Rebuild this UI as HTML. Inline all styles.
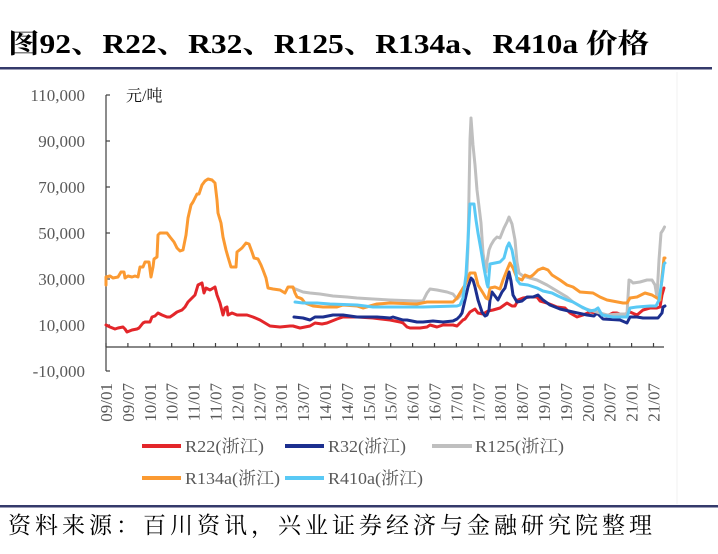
<!DOCTYPE html>
<html><head><meta charset="utf-8"><style>
html,body{margin:0;padding:0;background:#fff;}
svg{display:block;}
</style></head><body>
<svg width="718" height="554" viewBox="0 0 718 554" xmlns="http://www.w3.org/2000/svg">
<rect width="718" height="554" fill="#fff"/>
<!-- title -->
<text x="8" y="53" font-family="'Liberation Serif','Noto Serif CJK SC',serif" font-size="27" font-weight="bold" fill="#000" textLength="641" lengthAdjust="spacingAndGlyphs">图92、R22、R32、R125、R134a、R410a 价格</text>
<rect x="0" y="67" width="712" height="2.5" fill="#343a6b"/>
<line x1="677" y1="72" x2="677" y2="504" stroke="#f2f2f2" stroke-width="1"/>

<!-- y axis -->
<g font-family="'Liberation Serif',serif" font-size="17" fill="#595959" text-anchor="end">
<text x="85" y="101">110,000</text>
<text x="85" y="147">90,000</text>
<text x="85" y="193">70,000</text>
<text x="85" y="239">50,000</text>
<text x="85" y="285">30,000</text>
<text x="85" y="331">10,000</text>
<text x="85" y="377">-10,000</text>
</g>
<g stroke="#404040" stroke-width="1.2">
<line x1="106" y1="95" x2="106" y2="371"/>
<line x1="106" y1="95" x2="110" y2="95"/>
<line x1="106" y1="141" x2="110" y2="141"/>
<line x1="106" y1="187" x2="110" y2="187"/>
<line x1="106" y1="233" x2="110" y2="233"/>
<line x1="106" y1="279" x2="110" y2="279"/>
<line x1="106" y1="325" x2="110" y2="325"/>
<line x1="106" y1="371" x2="110" y2="371"/>
<line x1="106" y1="347" x2="664" y2="347"/>
</g>
<text x="126" y="101" font-family="'Liberation Serif','Noto Serif CJK SC',serif" font-size="16" fill="#111">元/吨</text>

<!-- x ticks & labels -->
<g stroke="#404040" stroke-width="1.2">
<path d="M106 343V347M127.9 343V347M149.8 343V347M171.7 343V347M193.6 343V347M215.5 343V347M237.4 343V347M259.3 343V347M281.2 343V347M303.1 343V347M325 343V347M346.9 343V347M368.8 343V347M390.7 343V347M412.6 343V347M434.5 343V347M456.4 343V347M478.3 343V347M500.2 343V347M522.1 343V347M544 343V347M565.9 343V347M587.8 343V347M609.7 343V347M631.6 343V347M653.5 343V347"/>
</g>
<g font-family="'Liberation Serif',serif" font-size="17" fill="#595959" text-anchor="end">
<text transform="translate(106,383) rotate(-90)" dy="0.35em">09/01</text>
<text transform="translate(127.9,383) rotate(-90)" dy="0.35em">09/07</text>
<text transform="translate(149.8,383) rotate(-90)" dy="0.35em">10/01</text>
<text transform="translate(171.7,383) rotate(-90)" dy="0.35em">10/07</text>
<text transform="translate(193.6,383) rotate(-90)" dy="0.35em">11/01</text>
<text transform="translate(215.5,383) rotate(-90)" dy="0.35em">11/07</text>
<text transform="translate(237.4,383) rotate(-90)" dy="0.35em">12/01</text>
<text transform="translate(259.3,383) rotate(-90)" dy="0.35em">12/07</text>
<text transform="translate(281.2,383) rotate(-90)" dy="0.35em">13/01</text>
<text transform="translate(303.1,383) rotate(-90)" dy="0.35em">13/07</text>
<text transform="translate(325,383) rotate(-90)" dy="0.35em">14/01</text>
<text transform="translate(346.9,383) rotate(-90)" dy="0.35em">14/07</text>
<text transform="translate(368.8,383) rotate(-90)" dy="0.35em">15/01</text>
<text transform="translate(390.7,383) rotate(-90)" dy="0.35em">15/07</text>
<text transform="translate(412.6,383) rotate(-90)" dy="0.35em">16/01</text>
<text transform="translate(434.5,383) rotate(-90)" dy="0.35em">16/07</text>
<text transform="translate(456.4,383) rotate(-90)" dy="0.35em">17/01</text>
<text transform="translate(478.3,383) rotate(-90)" dy="0.35em">17/07</text>
<text transform="translate(500.2,383) rotate(-90)" dy="0.35em">18/01</text>
<text transform="translate(522.1,383) rotate(-90)" dy="0.35em">18/07</text>
<text transform="translate(544,383) rotate(-90)" dy="0.35em">19/01</text>
<text transform="translate(565.9,383) rotate(-90)" dy="0.35em">19/07</text>
<text transform="translate(587.8,383) rotate(-90)" dy="0.35em">20/01</text>
<text transform="translate(609.7,383) rotate(-90)" dy="0.35em">20/07</text>
<text transform="translate(631.6,383) rotate(-90)" dy="0.35em">21/01</text>
<text transform="translate(653.5,383) rotate(-90)" dy="0.35em">21/07</text>
</g>

<!-- series -->
<g fill="none" stroke-width="3" stroke-linejoin="round" stroke-linecap="round">
<polyline stroke="#e3262a" points="106,325 110,327 115,329 118,328 123,327 125,329 127,332 132,330 137,329 139,328 143,323 145,322 150,322 152,317 155,316 158,313 162,315 167,317 170,317 173,315 177,312 182,310 185,307 188,302 192,298 195,295 198,285 202,283 204,293 206,288 210,290 215,287 217,295 220,303 223,315 225,308 227,307 228,315 232,313 237,315 247,315 253,317 260,320 265,323 270,326 280,327 290,326 293,326 300,328 305,327 310,326 315,323 322,324 327,323 337,319 343,317 357,317 373,318 390,320 400,322 403,323 407,327 410,328 417,328 420,328 427,327 430,325 437,327 443,325 453,325 457,326 460,323 463,320 465,319 470,312 475,309 478,313 483,314 488,311 493,310 500,308 507,303 512,306 515,306 518,300 523,298 530,297 537,297 540,301 547,303 557,307 565,308 570,313 577,317 583,315 590,312 597,313 607,316 613,313 617,313 623,315 630,312 637,315 643,310 650,308 657,308 660,307 662,295 664,288"/>
<polyline stroke="#1c2f8f" points="294,317 303,318 310,320 315,317 323,317 333,315 343,315 357,317 377,317 390,318 393,317 403,320 407,320 417,322 423,322 433,321 443,322 453,321 457,319 460,316 462,313 465,300 468,287 471,278 473,280 475,287 478,300 482,312 485,316 487,315 489,310 490,300 492,292 495,296 498,300 502,292 505,288 508,276 509,272 511,281 513,295 517,302 522,301 527,297 533,297 538,295 543,300 550,305 560,309 573,312 587,315 594,316 597,313 603,319 620,320 627,323 630,317 637,317 643,318 658,318 662,313 663,307 665,306"/>
<polyline stroke="#bfbfbf" points="293,288 298,290 303,292 310,293 320,294 333,296 347,297 357,298 373,299 390,300 417,301 423,301 427,293 430,289 437,290 447,292 453,294 457,299 460,296 463,288 465,286 467,270 468,247 470,140 471,118 473,145 475,165 477,190 481,223 483,253 486,272 487,262 489,250 491,245 494,240 497,237 500,238 504,228 507,222 509,217 512,224 515,240 517,262 519,273 523,276 530,278 537,280 547,285 557,291 567,297 573,302 583,308 593,311 600,313 607,315 620,314 627,314 629,280 631,281 633,283 640,282 647,280 652,280 655,285 657,297 659,260 661,233 663,230 664.5,227"/>
<polyline stroke="#fb9a32" points="106,285 106,277 110,276 113,278 118,277 121,272 124,272 125,278 128,276 132,277 135,276 138,277 140,267 143,267 145,262 149,262 151,277 153,267 154,259 157,257 158,235 160,233 167,233 170,237 174,242 177,248 180,251 183,250 186,235 188,218 191,205 193,202 197,194 199,194 202,185 205,181 208,179 212,180 215,183 217,200 218,213 221,223 223,237 226,250 228,257 231,267 236,267 237,252 242,248 246,243 249,244 252,252 254,258 258,259 261,265 263,270 266,278 268,288 273,289 280,290 285,293 288,287 293,287 295,293 297,297 300,298 302,299 305,303 313,306 323,307 337,307 343,305 357,306 363,308 377,304 390,303 417,304 427,302 437,302 453,302 457,298 460,293 465,285 470,273 475,273 478,285 483,293 486,298 488,299 490,288 495,287 500,289 503,280 507,270 510,263 513,268 517,278 522,280 525,275 530,277 533,275 538,270 543,268 548,270 552,275 560,280 567,285 573,287 580,292 593,293 600,297 607,300 623,303 627,303 630,298 637,297 645,293 652,295 657,298 660,300 662,277 664,258 665,258"/>
<polyline stroke="#59c9f5" points="295,302 303,303 317,303 330,304 357,305 373,307 390,307 423,307 457,306 460,305 463,298 466,275 468,240 470,204 474,204 476,220 478,233 481,250 484,268 487,284 488,287 490,264 500,262 504,258 507,247 509,243 512,250 515,266 517,280 520,284 528,285 537,288 543,291 552,293 558,296 567,300 573,302 582,307 590,311 595,310 598,308 602,315 613,317 627,317 630,308 637,307 650,306 656,306 659,300 662,280 664,264 665,263"/>
</g>

<!-- legend -->
<g stroke-width="4">
<line x1="142" y1="446" x2="181" y2="446" stroke="#e3262a"/>
<line x1="285" y1="446" x2="324" y2="446" stroke="#1c2f8f"/>
<line x1="432" y1="446" x2="472" y2="446" stroke="#bfbfbf"/>
<line x1="142" y1="478" x2="181" y2="478" stroke="#fb9a32"/>
<line x1="285" y1="478" x2="324" y2="478" stroke="#59c9f5"/>
</g>
<g font-family="'Liberation Serif','Noto Serif CJK SC',serif" font-size="17" fill="#595959">
<text x="185" y="452" textLength="79" lengthAdjust="spacingAndGlyphs">R22(浙江)</text>
<text x="328" y="452" textLength="78" lengthAdjust="spacingAndGlyphs">R32(浙江)</text>
<text x="475" y="452" textLength="89" lengthAdjust="spacingAndGlyphs">R125(浙江)</text>
<text x="185" y="484" textLength="95" lengthAdjust="spacingAndGlyphs">R134a(浙江)</text>
<text x="328" y="484" textLength="95" lengthAdjust="spacingAndGlyphs">R410a(浙江)</text>
</g>

<!-- footer -->
<rect x="0" y="505" width="718" height="2.5" fill="#343a6b"/>
<text x="8" y="533" font-family="'Noto Serif CJK SC','Liberation Serif',serif" font-size="23" fill="#000" textLength="644" lengthAdjust="spacing">资料来源：百川资讯，兴业证券经济与金融研究院整理</text>
</svg>
</body></html>
